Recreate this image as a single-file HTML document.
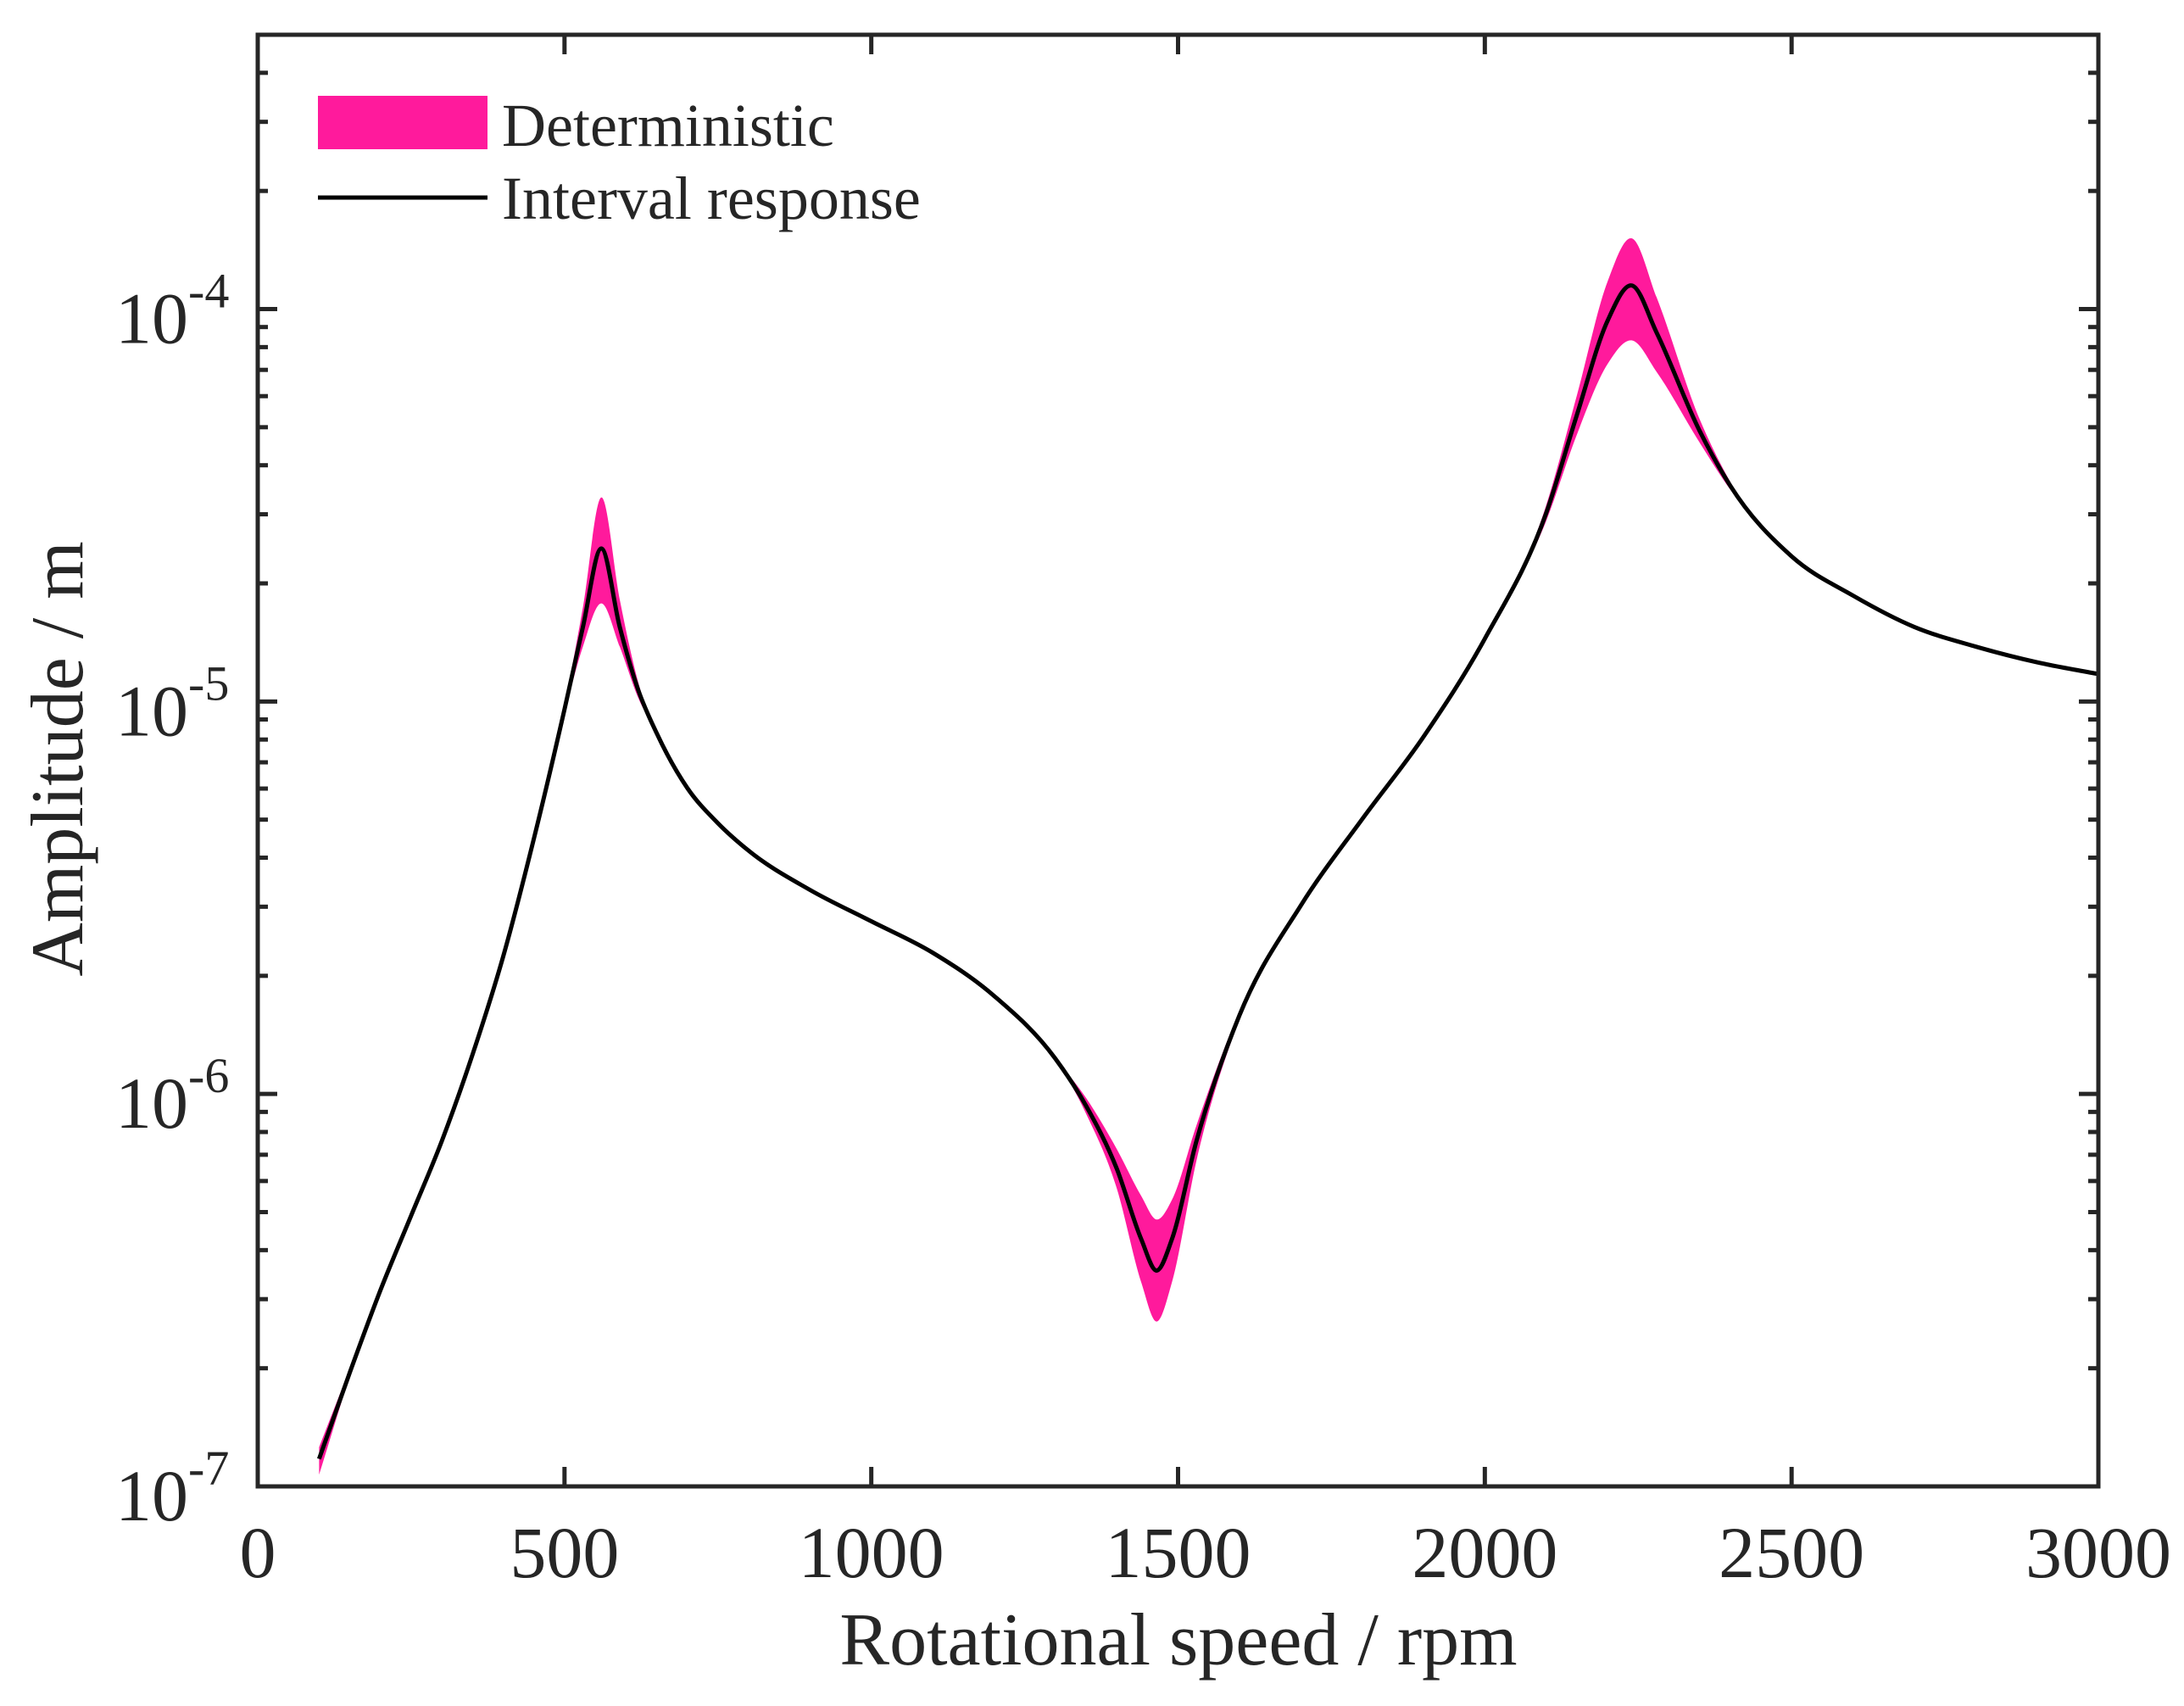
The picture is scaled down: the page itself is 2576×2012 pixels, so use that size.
<!DOCTYPE html>
<html><head><meta charset="utf-8"><style>
html,body{margin:0;padding:0;background:#fff}
svg{display:block;font-family:"Liberation Serif",serif}
</style></head><body>
<svg id="chart" width="2576" height="2012" viewBox="0 0 2576 2012" xmlns="http://www.w3.org/2000/svg">
<g id="plot"></g>
<g id="axes"></g>
</svg>
<script>
const speeds = [100,150,200,250,300,350,400,450,500,530,560,590,620,650,700,750,800,900,1000,1100,1200,1300,1350,1400,1440,1465,1490,1530,1600,1700,1800,1900,2000,2100,2150,2200,2240,2280,2350,2400,2500,2600,2700,2800,2900,3000];
const logResponse = [-6.93,-6.71,-6.50,-6.31,-6.12,-5.90,-5.65,-5.35,-5.02,-4.81,-4.61,-4.81,-4.97,-5.08,-5.22,-5.31,-5.38,-5.48,-5.56,-5.64,-5.75,-5.91,-6.03,-6.19,-6.37,-6.45,-6.37,-6.12,-5.80,-5.52,-5.30,-5.09,-4.84,-4.52,-4.27,-4.03,-3.94,-4.06,-4.31,-4.45,-4.63,-4.73,-4.81,-4.86,-4.90,-4.93];
const logUpper = [-6.90,-6.70,-6.50,-6.31,-6.12,-5.90,-5.65,-5.35,-5.01,-4.76,-4.48,-4.74,-4.95,-5.08,-5.22,-5.31,-5.38,-5.48,-5.56,-5.64,-5.75,-5.91,-6.01,-6.14,-6.26,-6.32,-6.27,-6.08,-5.79,-5.52,-5.30,-5.09,-4.84,-4.50,-4.22,-3.93,-3.82,-3.97,-4.28,-4.44,-4.63,-4.73,-4.81,-4.86,-4.90,-4.93];
const logLower = [-6.97,-6.72,-6.50,-6.31,-6.12,-5.90,-5.65,-5.35,-5.03,-4.86,-4.75,-4.86,-4.99,-5.08,-5.22,-5.31,-5.38,-5.48,-5.56,-5.64,-5.75,-5.91,-6.05,-6.24,-6.48,-6.58,-6.48,-6.17,-5.81,-5.52,-5.30,-5.09,-4.84,-4.54,-4.32,-4.14,-4.08,-4.16,-4.34,-4.46,-4.63,-4.73,-4.81,-4.86,-4.90,-4.93];
const xTicks = [0,500,1000,1500,2000,2500,3000];
const yDecades = [-7,-6,-5,-4];

const L=304,R=2475,T=41,B=1753;
const xMin=0,xMax=3000,yMin=-7,yMax=-3.301;
const sx=v=>L+(v-xMin)/(xMax-xMin)*(R-L);
const sy=v=>B-(v-yMin)/(yMax-yMin)*(B-T);
const NS="http://www.w3.org/2000/svg";
function mk(tag,attrs,parent){const e=document.createElementNS(NS,tag);for(const k in attrs)e.setAttribute(k,attrs[k]);parent.appendChild(e);return e;}
// non-uniform cubic Hermite spline in x
function smooth(pts,cont){const n=pts.length;const m=[];
 for(let i=0;i<n;i++){
  if(i===0)m.push((pts[1][1]-pts[0][1])/(pts[1][0]-pts[0][0]));
  else if(i===n-1)m.push((pts[n-1][1]-pts[n-2][1])/(pts[n-1][0]-pts[n-2][0]));
  else{const d0=(pts[i][1]-pts[i-1][1])/(pts[i][0]-pts[i-1][0]),d1=(pts[i+1][1]-pts[i][1])/(pts[i+1][0]-pts[i][0]);
   const h0=pts[i][0]-pts[i-1][0],h1=pts[i+1][0]-pts[i][0];
   m.push((d0*h1+d1*h0)/(h0+h1));}
 }
 let d=(cont?" L":"M")+pts[0][0]+","+pts[0][1];
 for(let i=0;i<n-1;i++){const h=pts[i+1][0]-pts[i][0];
  d+=" C"+(pts[i][0]+h/3)+","+(pts[i][1]+m[i]*h/3)+" "+(pts[i+1][0]-h/3)+","+(pts[i+1][1]-m[i+1]*h/3)+" "+pts[i+1][0]+","+pts[i+1][1];}
 return d;}
const plot=document.getElementById('plot'),axes=document.getElementById('axes');
const up=speeds.map((s,i)=>[sx(s),sy(logUpper[i])]);
const lo=speeds.map((s,i)=>[sx(s),sy(logLower[i])]);
// build lower reversed by negating x trick: draw forward then reverse path manually
let loRev=lo.slice().reverse();
function smoothRev(pts){const neg=pts.map(p=>[-p[0],p[1]]);return smooth(neg,true).replace(/(-?\d+\.?\d*(?:e-?\d+)?),(-?\d+\.?\d*(?:e-?\d+)?)/g,(mm,a,b)=>(-parseFloat(a))+","+b);}
let bd=smooth(up)+smoothRev(loRev)+" Z";
const band=mk('path',{d:bd,fill:'#ff1a9c',stroke:'none'},plot);


const line=mk('path',{d:smooth(speeds.map((s,i)=>[sx(s),sy(logResponse[i])])),fill:'none',stroke:'#000',"stroke-width":5},plot);


const frame=mk('rect',{x:L,y:T,width:R-L,height:B-T,fill:'none',stroke:'#262626',"stroke-width":5},axes);


xTicks.forEach(v=>{const x=sx(v);
 mk('line',{x1:x,x2:x,y1:B,y2:B-23,stroke:'#262626',"stroke-width":5},axes);
 mk('line',{x1:x,x2:x,y1:T,y2:T+23,stroke:'#262626',"stroke-width":5},axes);
 const t=mk('text',{x:x,y:1860,"text-anchor":"middle","font-size":86,fill:'#262626'},axes);t.textContent=v;
 
 
});
yDecades.forEach(d=>{
 for(let m=1;m<10;m++){const lv=d+Math.log10(m);if(lv>yMax)break;const y=sy(lv);const len=m===1?23:12;
  mk('line',{x1:L,x2:L+len,y1:y,y2:y,stroke:'#262626',"stroke-width":5},axes);
  mk('line',{x1:R,x2:R-len,y1:y,y2:y,stroke:'#262626',"stroke-width":5},axes);}
 const y=sy(d);
 const t=mk('text',{x:222,y:y+40,"text-anchor":"end","font-size":86,fill:'#262626'},axes);t.textContent="10";
 
 
 const s=mk('text',{x:222,y:y-2,"font-size":58,fill:'#262626'},axes);s.textContent=String(d);
 
 
});
</script>
<svg style="position:absolute;left:0;top:0" width="2576" height="2012">
<text x="1390" y="1963" text-anchor="middle" font-family="Liberation Serif, serif" font-size="88" fill="#262626">Rotational speed / rpm</text>
<text transform="translate(97,895) rotate(-90)" text-anchor="middle" font-family="Liberation Serif, serif" font-size="88" fill="#262626">Amplitude / m</text>
<rect x="375" y="113" width="200" height="63" fill="#ff1a9c"/>
<text x="592" y="172" font-family="Liberation Serif, serif" font-size="72" fill="#262626">Deterministic</text>
<line x1="375" x2="575" y1="233" y2="233" stroke="#000" stroke-width="5"/>
<text x="592" y="258" font-family="Liberation Serif, serif" font-size="72" fill="#262626">Interval response</text>
</svg>
</body></html>
